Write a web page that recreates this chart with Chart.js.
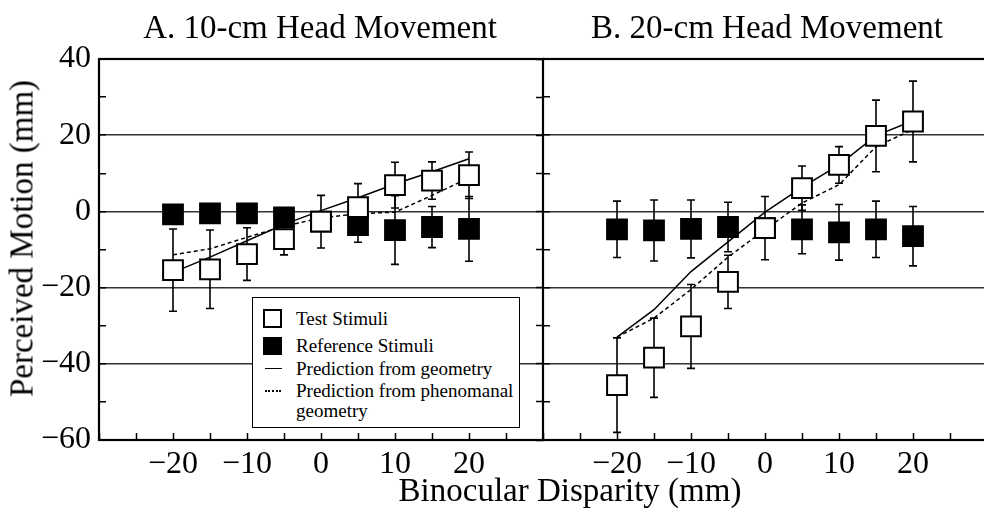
<!DOCTYPE html>
<html>
<head>
<meta charset="utf-8">
<script src="https://cdn.jsdelivr.net/npm/chart.js@4.4.1/dist/chart.umd.min.js"></script>
<style>
  html, body { margin: 0; padding: 0; background: #fff; }
  body { position: relative; width: 984px; height: 523px; overflow: hidden;
         font-family: "Liberation Serif", "Times New Roman", serif; color: #000; }
  canvas { position: absolute; top: 0; }
  #chartA { left: 0; }
  #chartB { left: 543px; }
  .txt { position: absolute; white-space: nowrap; text-align: center; font-size: 33px; line-height: 33px; }
  #legend { position: absolute; left: 252px; top: 297px; width: 268px; height: 131px;
            border: 1.5px solid #000; box-sizing: border-box; background: #fff; }
  #legend .lab { position: absolute; left: 43px; font-size: 19px; line-height: 19px; white-space: nowrap; }
  #legend .sym { position: absolute; left: 10px; box-sizing: border-box; }
</style>
</head>
<body>
<canvas id="chartA" width="544" height="523"></canvas>
<canvas id="chartB" width="444" height="523"></canvas>

<div class="txt" style="left:120px; top:11px; width:400px;">A. 10-cm Head Movement</div>
<div class="txt" style="left:567px; top:11px; width:400px;">B. 20-cm Head Movement</div>
<div class="txt" style="left:370px; top:474px; width:400px;">Binocular Disparity (mm)</div>
<div class="txt" style="left:-178px; top:222px; width:400px; height:33px; transform:rotate(-90deg);">Perceived Motion (mm)</div>

<div id="legend">
  <div class="sym" style="top:11px; width:19px; height:19px; border:2px solid #000; background:#fff;"></div>
  <div class="lab" style="top:11px;">Test Stimuli</div>
  <div class="sym" style="top:39px; width:19px; height:18px; background:#000;"></div>
  <div class="lab" style="top:38px;">Reference Stimuli</div>
  <div class="sym" style="top:70px; left:12px; width:17px; border-top:1.5px solid #000;"></div>
  <div class="lab" style="top:61px;">Prediction from geometry</div>
  <div class="sym" style="top:92px; left:12px; width:16px; border-top:2px dotted #000;"></div>
  <div class="lab" style="top:83px;">Prediction from phenomanal</div>
  <div class="lab" style="top:103px;">geometry</div>
</div>

<script>
  // x positions (binocular disparity, mm)
  const disparity = [-20, -15, -10, -5, 0, 5, 10, 15, 20];

  // A. 10-cm head movement
  const testA    = [-15.4, -15.2, -11.2, -7.3, -2.7, 1.1, 6.9, 8.1, 9.5];
  const testAErr = [10.8, 10.3, 6.9, 4.1, 6.9, 6.2, 6.0, 4.9, 6.1];
  const refA     = [-0.8, -0.5, -0.5, -1.6, -2.7, -3.6, -4.9, -4.1, -4.6];
  const refAErr  = [2, 2, 2, 2.5, 0, 4.5, 9.0, 5.4, 8.5];
  const geoA     = [-16.0, -12.0, -7.7, -3.4, 0.2, 3.6, 7.2, 10.4, 13.8];
  const phenA    = [-11.4, -9.8, -6.8, -3.9, -1.7, -0.6, -0.2, 4.2, 8.8];

  // B. 20-cm head movement
  const testB    = [-45.6, -38.4, -30.2, -18.5, -4.4, 6.1, 12.2, 19.8, 23.6];
  const testBErr = [12.4, 10.4, 11.0, 7.0, 8.3, 5.8, 4.8, 9.4, 10.6];
  const refB     = [-4.7, -5.0, -4.6, -4.1, -4.4, -4.7, -5.5, -4.7, -6.5];
  const refBErr  = [7.4, 8.0, 7.6, 6.5, 0, 6.4, 7.3, 7.4, 7.8];
  const geoB     = [-33.0, -25.8, -15.8, -8.0, -0.2, 6.3, 12.2, 19.9, 23.8];
  const phenB    = [-33.0, -28.0, -20.5, -12.0, -4.8, 2.2, 7.0, 17.0, 21.5];

  const serif = "'Liberation Serif', 'Times New Roman', serif";
  const fmt = v => v < 0 ? '\u2212' + Math.abs(v) : String(v);
  const pts = ys => disparity.map((x, i) => ({ x: x, y: ys[i] }));

  // vertical error bars, drawn under the markers
  const errorBars = {
    id: 'errorBars',
    beforeDatasetsDraw(chart) {
      const ctx = chart.ctx;
      const xs = chart.scales.x, ys = chart.scales.y;
      chart.data.datasets.forEach(function (ds) {
        if (!ds.errors) return;
        ctx.save();
        ctx.strokeStyle = '#000';
        ctx.lineWidth = 1.6;
        ds.data.forEach(function (p, j) {
          const e = ds.errors[j];
          if (!e) return;
          const x = xs.getPixelForValue(p.x);
          const y1 = ys.getPixelForValue(p.y + e);
          const y2 = ys.getPixelForValue(p.y - e);
          ctx.beginPath();
          ctx.moveTo(x, y1); ctx.lineTo(x, y2);
          ctx.moveTo(x - 4, y1); ctx.lineTo(x + 4, y1);
          ctx.moveTo(x - 4, y2); ctx.lineTo(x + 4, y2);
          ctx.stroke();
        });
        ctx.restore();
      });
    }
  };

  // box round the plot area
  const frame = {
    id: 'frame',
    afterDraw(chart) {
      const ctx = chart.ctx, a = chart.chartArea;
      ctx.save();
      ctx.strokeStyle = '#000';
      ctx.lineWidth = 2.2;
      ctx.strokeRect(a.left, a.top, a.right - a.left, a.bottom - a.top);
      ctx.restore();
    }
  };

  function makeDatasets(test, testErr, ref, refErr, geo, phen) {
    return [{
      label: 'Test Stimuli',
      data: pts(test), errors: testErr,
      pointStyle: 'rect', pointRadius: 14, pointBackgroundColor: '#fff',
      pointBorderColor: '#000', pointBorderWidth: 2, order: 0
    }, {
      label: 'Reference Stimuli',
      data: pts(ref), errors: refErr,
      pointStyle: 'rect', pointRadius: 14, pointBackgroundColor: '#000',
      pointBorderColor: '#000', pointBorderWidth: 2, order: 1
    }, {
      label: 'Prediction from geometry',
      data: pts(geo), showLine: true, borderColor: '#000', borderWidth: 1.5,
      pointRadius: 0, tension: 0, order: 2
    }, {
      label: 'Prediction from phenomanal geometry',
      data: pts(phen), showLine: true, borderColor: '#000', borderWidth: 1.5,
      borderDash: [4, 3], pointRadius: 0, tension: 0, order: 3
    }];
  }

  function xScale() {
    return {
      type: 'linear', min: -30, max: 30,
      // fixed axis height, and no side padding so the two panels meet
      afterFit: s => { s.height = 83; s.paddingLeft = 0; s.paddingRight = 0; },
      ticks: {
        stepSize: 5, autoSkip: false, maxRotation: 0, minRotation: 0, padding: 12,
        color: '#000', font: { family: serif, size: 32 },
        callback: v => (v % 10 === 0 && Math.abs(v) <= 20) ? fmt(v) : ''
      },
      grid: { drawOnChartArea: false, tickLength: -7, tickColor: '#000', tickWidth: 1.5 },
      border: { display: false }
    };
  }

  function yScale(showLabels, width) {
    return {
      type: 'linear', min: -60, max: 40,
      afterFit: s => { s.width = width; },
      ticks: {
        display: showLabels, stepSize: 10, autoSkip: false, padding: 15,
        color: '#000', font: { family: serif, size: 32 },
        callback: v => v % 20 === 0 ? fmt(v) : ''
      },
      grid: {
        color: c => (c.tick && c.tick.value % 20 === 0) ? '#333' : 'rgba(0,0,0,0)',
        lineWidth: 1.5, tickLength: -7, tickColor: '#000', tickWidth: 1.5
      },
      border: { display: false }
    };
  }

  const common = {
    responsive: false,
    animation: false,
    events: [],
    plugins: { legend: { display: false }, tooltip: { enabled: false } }
  };

  new Chart(document.getElementById('chartA'), {
    type: 'scatter',
    data: { datasets: makeDatasets(testA, testAErr, refA, refAErr, geoA, phenA) },
    options: Object.assign({}, common, {
      layout: { autoPadding: false, padding: { top: 59, left: 0, right: 1, bottom: 0 } },
      scales: {
        x: xScale(),
        y: yScale(true, 99),
        y2: {
          position: 'right', min: -60, max: 40,
          afterFit: s => { s.width = 0; },
          ticks: { display: false, stepSize: 10 },
          grid: { drawOnChartArea: false, tickLength: -7, tickColor: '#000', tickWidth: 1.5 },
          border: { display: false }
        }
      }
    }),
    plugins: [errorBars, frame]
  });

  new Chart(document.getElementById('chartB'), {
    type: 'scatter',
    data: { datasets: makeDatasets(testB, testBErr, refB, refBErr, geoB, phenB) },
    options: Object.assign({}, common, {
      layout: { autoPadding: false, padding: { top: 59, left: 0, right: 0, bottom: 0 } },
      scales: {
        x: xScale(),
        y: yScale(false, 0)
      }
    }),
    plugins: [errorBars, frame]
  });
</script>
</body>
</html>
